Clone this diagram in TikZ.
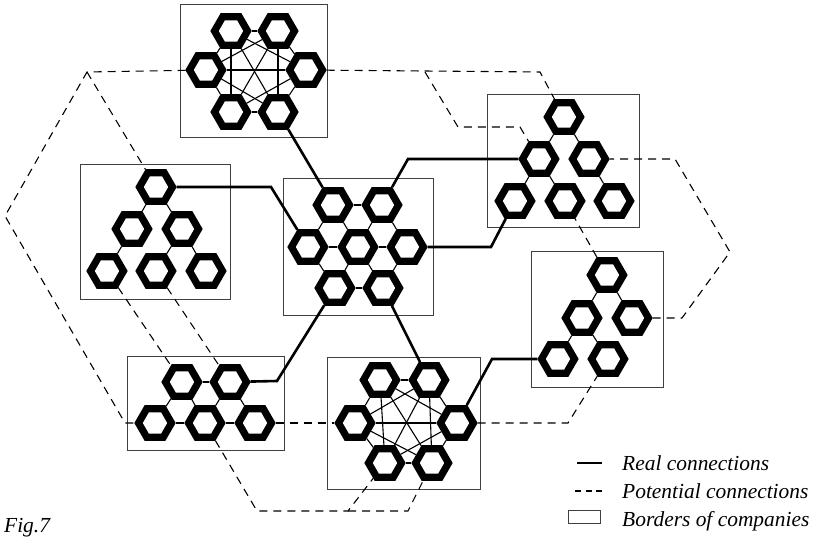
\documentclass[tikz,border=0pt]{standalone}
\usepackage{fontspec}
\setmainfont{Liberation Serif}
\usetikzlibrary{shapes.geometric}
\begin{document}
\begin{tikzpicture}[x=1bp,y=-1bp,
 hexa/.style={regular polygon, regular polygon sides=6, minimum size=33bp, inner sep=0pt, draw=black, line width=7.2bp, fill=white},
 company/.style={draw=black!75, line width=1bp},
 innerlink/.style={draw=black, line width=1.1bp},
 real/.style={draw=black, line width=2.6bp},
 potential/.style={draw=black, line width=1.1bp, dash pattern=on 8bp off 6bp},
 legtext/.style={anchor=base west, inner sep=0pt, font=\fontsize{21.5}{25}\selectfont\itshape}
]
\useasboundingbox (0,0) rectangle (815,541);

% company borders
\draw[company] (180,5) rectangle (327,138);
\draw[company] (283,179) rectangle (433,315);
\draw[company] (80,165) rectangle (230,299);
\draw[company] (487,95) rectangle (639,228);
\draw[company] (531,252) rectangle (663,387);
\draw[company] (127,356) rectangle (284,450);
\draw[company] (327,357) rectangle (480,489);

% top company
\node[hexa] (tTL) at (231,31) {};
\node[hexa] (tTR) at (278,31) {};
\node[hexa] (tL) at (206,70) {};
\node[hexa] (tR) at (306,70) {};
\node[hexa] (tBL) at (231,112) {};
\node[hexa] (tBR) at (278,112) {};
% central company
\node[hexa] (cTL) at (333,205) {};
\node[hexa] (cTR) at (382,205) {};
\node[hexa] (cL) at (308,247) {};
\node[hexa] (cM) at (358,247) {};
\node[hexa] (cR) at (407,247) {};
\node[hexa] (cBL) at (335,288) {};
\node[hexa] (cBR) at (383,288) {};
% left company
\node[hexa] (lT) at (156,187) {};
\node[hexa] (lML) at (132,229) {};
\node[hexa] (lMR) at (182,229) {};
\node[hexa] (lBL) at (107,271) {};
\node[hexa] (lBM) at (156,271) {};
\node[hexa] (lBR) at (206,271) {};
% right-top company
\node[hexa] (aT) at (564,117) {};
\node[hexa] (aML) at (539,159) {};
\node[hexa] (aMR) at (589,159) {};
\node[hexa] (aBL) at (515,201) {};
\node[hexa] (aBM) at (565,201) {};
\node[hexa] (aBR) at (614,201) {};
% right-lower company
\node[hexa] (bT) at (607,275) {};
\node[hexa] (bML) at (582,318) {};
\node[hexa] (bMR) at (632,318) {};
\node[hexa] (bBL) at (558,359) {};
\node[hexa] (bBM) at (608,359) {};
% bottom-left company
\node[hexa] (eTL) at (182,382) {};
\node[hexa] (eTR) at (230,382) {};
\node[hexa] (eBL) at (155,423) {};
\node[hexa] (eBM) at (205,423) {};
\node[hexa] (eBR) at (255,423) {};
% bottom-middle company
\node[hexa] (mTL) at (380,380) {};
\node[hexa] (mTR) at (429,380) {};
\node[hexa] (mL) at (355,423) {};
\node[hexa] (mR) at (457,423) {};
\node[hexa] (mBL) at (385,463) {};
\node[hexa] (mBR) at (432,463) {};

% internal links
\foreach \a/\b in {tTL/tTR,tTL/tL,tTL/tR,tTL/tBL,tTL/tBR,tTR/tL,tTR/tR,tTR/tBL,tTR/tBR,tL/tR,tL/tBL,tL/tBR,tR/tBL,tR/tBR,tBL/tBR,
 mTL/mTR,mTL/mL,mTL/mR,mTL/mBL,mTL/mBR,mTR/mL,mTR/mR,mTR/mBL,mTR/mBR,mL/mR,mL/mBL,mL/mBR,mR/mBL,mR/mBR,mBL/mBR,
 cTL/cTR,cTL/cL,cTL/cM,cTR/cM,cTR/cR,cL/cM,cM/cR,cL/cBL,cM/cBL,cM/cBR,cR/cBR,cBL/cBR,
 lT/lML,lT/lMR,lML/lBL,lMR/lBM,lMR/lBR,
 aT/aML,aT/aMR,aML/aBL,aML/aBM,aMR/aBR,
 bT/bML,bT/bMR,bML/bBL,bML/bBM,
 eTL/eTR,eTL/eBL,eTL/eBM,eTR/eBM,eTR/eBR,eBL/eBM,eBM/eBR}
 \draw[innerlink] (\a) -- (\b);

% bend points
\coordinate (r2) at (271,187);
\coordinate (r3) at (408,159);
\coordinate (r4) at (491,247);
\coordinate (r5) at (277,381);
\coordinate (r7) at (492,359);
\coordinate (p1) at (87,72);
\coordinate (p2) at (5,216);
\coordinate (p3) at (125,423);
\coordinate (p4) at (257,511);
\coordinate (p5) at (348,511);
\coordinate (p6) at (408,511);
\coordinate (p7) at (568,423);
\coordinate (p8) at (682,318);
\coordinate (p9) at (730,252);
\coordinate (p10) at (675,159);
\coordinate (p11) at (540,72);
\coordinate (p12) at (425,72);
\coordinate (p13) at (458,127);
\coordinate (p14) at (520,127);

% real connections
\draw[real] (tBR) -- (cTL);
\draw[real] (lT) -- (r2) -- (cL);
\draw[real] (cTR) -- (r3) -- (aML);
\draw[real] (cR) -- (r4) -- (aBL);
\draw[real] (cBL) -- (r5) -- (eTR);
\draw[real] (cBR) -- (mTR);
\draw[real] (mR) -- (r7) -- (bBL);

% potential connections
\draw[potential] (tL) -- (p1) -- (p2) -- (p3) -- (eBL);
\draw[potential] (p1) -- (lT);
\draw[potential] (lBL) -- (eTL);
\draw[potential] (lBM) -- (eTR);
\draw[potential] (eBR) -- (mL);
\draw[potential] (eBM) -- (p4) -- (p5) -- (mBL);
\draw[potential] (p5) -- (p6) -- (mBR);
\draw[potential] (mR) -- (p7) -- (bBM);
\draw[potential] (bMR) -- (p8) -- (p9) -- (p10) -- (aMR);
\draw[potential] (bT) -- (aBM);
\draw[potential] (tR) -- (p11) -- (aT);
\draw[potential] (p12) -- (p13) -- (p14) -- (aML);

% legend
\coordinate (s1) at (577,463);
\coordinate (s2) at (602,463);
\coordinate (d1) at (575,491);
\coordinate (d2) at (602,491);
\draw[real, line width=2.4bp] (s1) -- (s2);
\draw[potential, dash pattern=on 6bp off 4.5bp] (d1) -- (d2);
\draw[company] (568,510) rectangle (600,523);
\node[legtext] (lg1) at (622,470) {Real connections};
\node[legtext] (lg2) at (622,498) {Potential connections};
\node[legtext] (lg3) at (622,526) {Borders of companies};
\node[legtext] (fig) at (4,532) {Fig.7};
\end{tikzpicture}
\end{document}
